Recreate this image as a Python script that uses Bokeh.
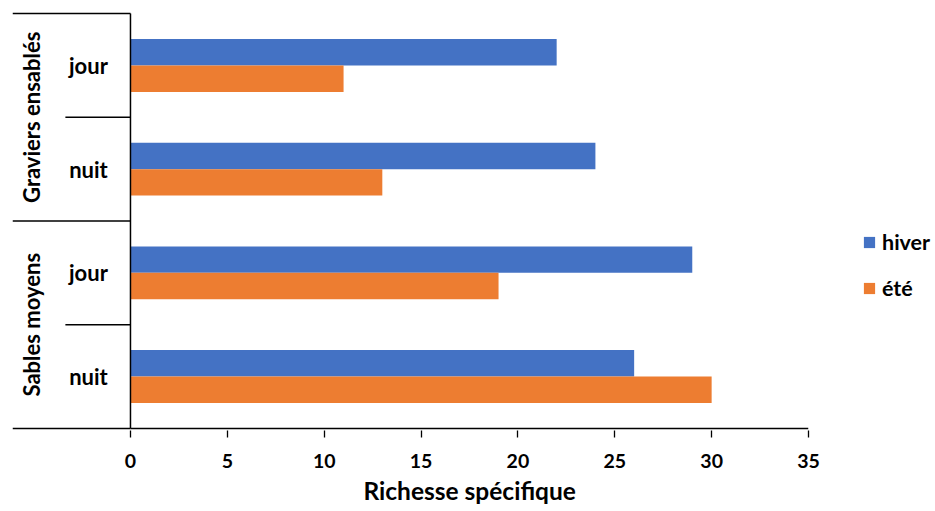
from bokeh.plotting import figure
from bokeh.models import (FactorRange, Range1d, ColumnDataSource, FixedTicker, Legend,
                          LegendItem, Title)
from bokeh.transform import dodge
from bokeh.core.properties import value
from bokeh.embed import file_html
from bokeh.resources import INLINE
import math

# ---- data ----
substrates = ["Graviers ensablés", "Graviers ensablés", "Sables moyens", "Sables moyens"]
periods = ["jour", "nuit", "jour", "nuit"]
hiver = [22, 24, 29, 26]
ete = [11, 13, 19, 30]
x_ticks = [0, 5, 10, 15, 20, 25, 30, 35]
x_title = "Richesse spécifique"
series_names = ["hiver", "été"]

BLUE = "#4472C4"
ORANGE = "#ED7D31"
FONT = "Lato"

cats = list(zip(substrates, periods))
factors = list(reversed(cats))  # first category at top

yr = FactorRange(*factors, factor_padding=0, group_padding=0, subgroup_padding=0,
                 range_padding=0.02, range_padding_units="absolute")
LEFT = -6.09
p = figure(y_range=yr, x_range=Range1d(LEFT, 35),
           frame_width=796, frame_height=419,
           min_border_left=12, min_border_right=119, min_border_top=11, min_border_bottom=81,
           y_axis_location=None, output_backend="svg", toolbar_location=None,
           background_fill_color="white", border_fill_color="white")
p.outline_line_color = None
p.grid.visible = False

src = ColumnDataSource(dict(y=cats, hiver=hiver, ete=ete))
BH = 0.255
r1 = p.hbar(y=dodge("y", BH / 2, range=yr), right="hiver", left=0, height=BH,
            source=src, fill_color=BLUE, line_color=None)
r2 = p.hbar(y=dodge("y", -BH / 2, range=yr), right="ete", left=0, height=BH,
            source=src, fill_color=ORANGE, line_color=None)

# x axis
ax = p.xaxis[0]
ax.ticker = FixedTicker(ticks=x_ticks)
ax.axis_line_color = None
ax.major_tick_out = 7
ax.major_tick_in = 0
ax.minor_tick_line_color = None
ax.major_tick_line_color = "black"
ax.major_tick_line_width = 1.3
ax.major_label_text_font = FONT
ax.major_label_text_font_style = "bold"
ax.major_label_text_font_size = "19.5px"
ax.major_label_text_color = "black"
ax.major_label_standoff = 16

# structural lines (axis frame & category separators)
top = (cats[0][0], cats[0][1], 0.5)
bot = (cats[-1][0], cats[-1][1], -0.5)
mid = (cats[1][0], cats[1][1], -0.5)
sub1 = (cats[0][0], cats[0][1], -0.5)
sub2 = (cats[2][0], cats[2][1], -0.5)
SUBX = -3.36
lines = ColumnDataSource(dict(
    x0=[0, 0, LEFT, LEFT, LEFT, SUBX, SUBX],
    x1=[0, 35, 0, 0, 0, 0, 0],
    y0=[bot, bot, top, mid, bot, sub1, sub2],
    y1=[top, bot, top, mid, bot, sub1, sub2],
))
p.segment(x0="x0", x1="x1", y0="y0", y1="y1", source=lines, line_color="black", line_width=1.5)

# category labels
sub_src = ColumnDataSource(dict(y=cats, t=periods))
p.text(x=-2.17, y="y", text="t", source=sub_src, text_font=value(FONT), text_font_style="bold",
       text_font_size="22px", text_align="center", text_baseline="middle", text_color="black")
groups = []
for s in substrates:
    if s not in groups:
        groups.append(s)
grp_src = ColumnDataSource(dict(y=groups, t=groups))
p.text(x=-5.1, y="y", text="t", source=grp_src, angle=math.pi / 2, text_font=value(FONT),
       text_font_style="bold", text_font_size="22px", text_align="center",
       text_baseline="middle", text_color="black")

# axis title (centred over the 0–35 value axis)
t = Title(text=x_title, align="left", offset=351, text_font=FONT, text_font_style="bold",
          text_font_size="24.5px", text_color="black", standoff=7)
p.add_layout(t, "below")

legend = Legend(items=[LegendItem(label=series_names[0], renderers=[r1]),
                       LegendItem(label=series_names[1], renderers=[r2])],
                location=(54, 129), orientation="vertical")
legend.border_line_color = None
legend.background_fill_alpha = 0
legend.padding = 0
legend.margin = 0
legend.glyph_width = 14
legend.glyph_height = 14
legend.label_height = 20
legend.spacing = 20
legend.label_standoff = 6
legend.label_text_font = FONT
legend.label_text_font_style = "bold"
legend.label_text_font_size = "21.5px"
legend.label_text_color = "black"
p.add_layout(legend, "right")

open("out.html", "w").write(file_html(p, INLINE))
